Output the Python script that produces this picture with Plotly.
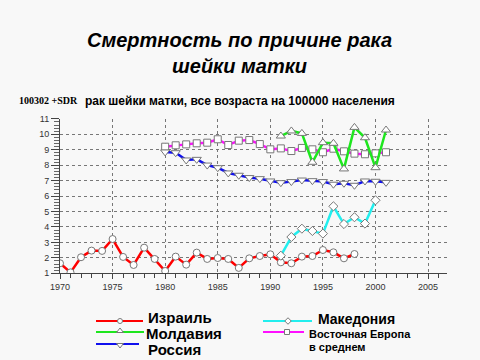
import plotly.graph_objects as go

# ---------------- data ----------------
years_isr = list(range(1970, 1999))
israel = [1.65, 1.06, 2.04, 2.47, 2.45, 3.22, 2.06, 1.54, 2.66, 1.93,
          1.15, 2.08, 1.56, 2.34, 1.93, 1.99, 1.93, 1.35, 1.97, 2.12,
          2.23, 1.71, 1.65, 2.08, 2.12, 2.51, 2.36, 1.97, 2.25]

years_mac = list(range(1991, 2001))
macedonia = [2.14, 3.35, 3.89, 3.74, 3.57, 5.34, 4.19, 4.63, 4.22, 5.73]

years_mol = list(range(1991, 2002))
moldova = [9.89, 10.22, 10.06, 8.19, 9.46, 9.42, 7.76, 10.45, 9.78, 7.84, 10.28]

years_ee = list(range(1980, 2002))
east_europe = [9.20, 9.29, 9.35, 9.42, 9.46, 9.68, 9.31, 9.59, 9.63, 9.37,
               9.03, 9.09, 8.92, 9.12, 9.03, 8.84, 9.07, 8.90, 8.75, 8.71,
               8.77, 8.84]

years_rus = list(range(1980, 2002))
russia = [8.86, 8.81, 8.34, 8.38, 8.01, 7.84, 7.50, 7.35, 7.20, 7.13,
          6.98, 6.87, 6.94, 7.04, 7.00, 6.94, 6.77, 6.83, 6.70, 6.98,
          6.96, 6.89]

x_ticks = [1970, 1975, 1980, 1985, 1990, 1995, 2000, 2005]
y_ticks = list(range(1, 12))

title_lines = ["Смертность по причине рака", "шейки матки"]
subtitle_code = "100302 +SDR"
subtitle_text = "рак шейки матки, все возраста на 100000 населения"

# ---------------- styling ----------------
W, H = 480, 360
BG = "#f8f8f8"
RED, GREEN, BLUE, CYAN, MAGENTA = "#ff0000", "#1ee61e", "#1010ee", "#22eeee", "#ff10ff"
MK_LINE = dict(color="#777777", width=1)

# plot area in pixels
PX0, PX1 = 60, 447
PY_TOP, PY_BOT = 118.9, 273.3

fig = go.Figure()

series = [
    ("Израиль", years_isr, israel, RED, "circle", 7),
    ("Македония", years_mac, macedonia, CYAN, "diamond", 7),
    ("Восточная Европа в среднем", years_ee, east_europe, MAGENTA, "square", 7),
    ("Россия", years_rus, russia, BLUE, "triangle-down", 8),
    ("Молдавия", years_mol, moldova, GREEN, "triangle-up", 8),
]
for name, xs, ys, col, sym, sz in series:
    fig.add_trace(go.Scatter(
        x=xs, y=ys, name=name, mode="lines+markers",
        line=dict(color=col, width=2.5),
        marker=dict(symbol=sym, size=sz, color="white", line=MK_LINE),
        showlegend=False, xaxis="x", yaxis="y"))

# ---------------- custom legend (pixel overlay axes) ----------------
legend_items = [
    # line x0, x1, y, marker x, marker y, color, symbol, size
    (96, 143, 321, 120, 321, RED, "circle", 5),
    (96, 144, 332, 120, 331, GREEN, "triangle-up", 6),
    (96, 139, 344, 120, 345, BLUE, "triangle-down", 6),
    (263, 312, 321, 288, 321, CYAN, "diamond", 5),
    (263, 304, 332, 287, 332, MAGENTA, "square", 5),
]
for x0, x1, y, mx, my, col, sym, sz in legend_items:
    fig.add_trace(go.Scatter(x=[x0, x1], y=[y, y], mode="lines",
                             line=dict(color=col, width=2),
                             showlegend=False, hoverinfo="skip",
                             xaxis="x2", yaxis="y2"))
    fig.add_trace(go.Scatter(x=[mx], y=[my], mode="markers",
                             marker=dict(symbol=sym, size=sz, color="white", line=MK_LINE),
                             showlegend=False, hoverinfo="skip",
                             xaxis="x2", yaxis="y2"))

annotations = []
def txt(x, y, s, size, xanchor="left", family="Liberation Sans", bold=True, italic=False):
    t = s
    if bold:
        t = "<b>" + t + "</b>"
    if italic:
        t = "<i>" + t + "</i>"
    annotations.append(dict(x=x, y=y, xref="x2", yref="y2", text=t, showarrow=False,
                            xanchor=xanchor, yanchor="middle",
                            font=dict(family=family, size=size, color="#000000")))

txt(239, 40, title_lines[0], 20, xanchor="center", italic=True)
txt(239, 66, title_lines[1], 20, xanchor="center", italic=True)
txt(17, 100, subtitle_code, 10, family="Liberation Serif")
txt(83, 101, subtitle_text, 12)

txt(146, 317, "Израиль", 15)
txt(144, 333, "Молдавия", 15)
txt(146, 349, "Россия", 15)
txt(316, 319, "Македония", 14)
txt(307, 334, "Восточная Европа", 11)
txt(307, 347, "в среднем", 11)

fig.update_layout(
    width=W, height=H,
    margin=dict(l=0, r=0, t=0, b=0, autoexpand=False),
    paper_bgcolor=BG, plot_bgcolor="rgba(0,0,0,0)",
    annotations=annotations,
    xaxis=dict(
        domain=[PX0 / W, PX1 / W], anchor="y",
        range=[1970, 2006.8], tickvals=x_ticks,
        ticks="outside", ticklen=5, tickcolor="#444",
        showline=True, linecolor="#444", linewidth=1,
        showgrid=True, gridcolor="#777", griddash="dot", gridwidth=1,
        zeroline=False,
        minor=dict(dtick=1, ticks="outside", ticklen=4, tickcolor="#444", showgrid=False),
        tickfont=dict(family="Liberation Sans", size=9, color="#333"),
    ),
    yaxis=dict(
        domain=[(H - PY_BOT) / H, (H - PY_TOP) / H], anchor="x",
        range=[1, 11], tickvals=y_ticks,
        ticks="outside", ticklen=8, tickcolor="#444",
        showline=True, linecolor="#444", linewidth=1,
        showgrid=True, gridcolor="#777", griddash="dot", gridwidth=1,
        zeroline=False,
        minor=dict(dtick=0.2, ticks="outside", ticklen=5, tickcolor="#666", showgrid=False),
        tickfont=dict(family="Liberation Sans", size=9, color="#333"),
    ),
    xaxis2=dict(domain=[0, 1], anchor="y2", range=[0, W], visible=False, fixedrange=True),
    yaxis2=dict(domain=[0, 1], anchor="x2", range=[H, 0], visible=False, fixedrange=True),
)

fig.write_html(
    "out.html",
    config={"displayModeBar": False},
    post_script="document.body.style.margin='0';document.body.style.background='%s';" % BG,
)
